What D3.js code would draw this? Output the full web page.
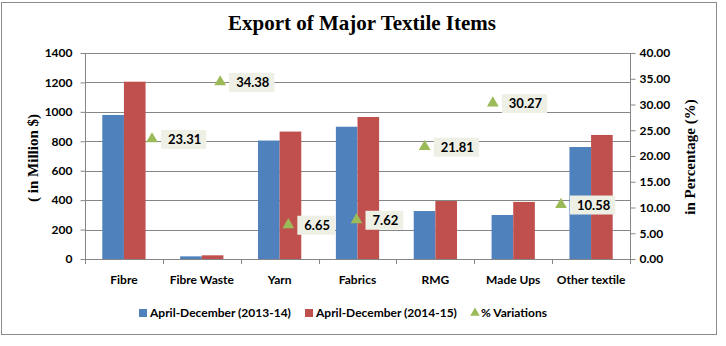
<!DOCTYPE html>
<html><head><meta charset="utf-8">
<script src="https://cdn.jsdelivr.net/npm/d3@7"></script>
<style>body{margin:0;background:#fff}svg{display:block}</style>
</head><body>
<svg id="c" width="726" height="346"></svg>
<script>
const categories = ["Fibre","Fibre Waste","Yarn","Fabrics","RMG","Made Ups","Other textile"];
const values2013 = [979, 18, 805, 899, 326, 299, 761];
const values2014 = [1205, 25, 866, 965, 394, 388, 843];
const variations = [23.31, 34.38, 6.65, 7.62, 21.81, 30.27, 10.58];
const leftTicks = [0,200,400,600,800,1000,1200,1400];
const rightTicks = [0,5,10,15,20,25,30,35,40];
const seriesNames = ["April-December (2013-14)","April-December (2014-15)","% Variations"];

const W=726,H=346;
const m={l:85,r:630,t:53,b:259};
const svg=d3.select("#c");
const gray="#868686";
const font="Lato, 'Open Sans', sans-serif";
const blue="#4f81bd", red="#c0504d", green="#9bbb59";

svg.append("rect").attr("x",1.5).attr("y",2.5).attr("width",715).attr("height",332)
  .attr("fill","#fff").attr("stroke","#8c8c8c").attr("stroke-width",1);

svg.append("text").attr("x",362).attr("y",30).attr("text-anchor","middle")
  .attr("font-family","'Liberation Serif', serif").attr("font-weight","bold").attr("font-size",21)
  .attr("fill","#000").text("Export of Major Textile Items");

const x=d3.scaleBand().domain(categories).range([m.l,m.r]).paddingInner(0).paddingOuter(0);
const y=d3.scaleLinear().domain([0,1400]).range([m.b,m.t]);
const y2=d3.scaleLinear().domain([0,40]).range([m.b,m.t]);
const xs=d3.scaleBand().domain([0,1]).range([0,x.bandwidth()]).paddingOuter(0.8).paddingInner(0);
const xp=d3.scalePoint().domain(categories).range([m.l+67,m.l+476]);

// gridlines
svg.append("g").selectAll("line").data(leftTicks.slice(1)).join("line")
  .attr("x1",m.l).attr("x2",m.r).attr("y1",d=>Math.round(y(d))+0.5).attr("y2",d=>Math.round(y(d))+0.5)
  .attr("stroke",gray).attr("stroke-width",1);

// bars
const series=[values2013,values2014];
const colors=[blue,red];
series.forEach((vals,si)=>{
  svg.append("g").selectAll("rect").data(vals).join("rect")
    .attr("x",(d,i)=>x(categories[i])+xs(si))
    .attr("width",xs.bandwidth())
    .attr("y",d=>y(d)).attr("height",d=>y(0)-y(d))
    .attr("fill",colors[si]);
});

// axes
const la=svg.append("g").attr("transform",`translate(${m.l+0.5},0)`)
  .call(d3.axisLeft(y).tickValues(leftTicks).tickSize(5).tickPadding(8).tickFormat(d3.format("d")));
const ra=svg.append("g").attr("transform",`translate(${m.r+0.5},0)`)
  .call(d3.axisRight(y2).tickValues(rightTicks).tickSize(5).tickPadding(4).tickFormat(d3.format(".2f")));
const ba=svg.append("g").attr("transform",`translate(0,${m.b+0.5})`)
  .call(d3.axisBottom(x).tickSize(0).tickPadding(16));
[la,ra,ba].forEach(a=>{
  a.select(".domain").attr("stroke",gray);
  a.selectAll(".tick line").attr("stroke",gray);
  a.selectAll("text").attr("font-family",font).attr("font-weight","bold").attr("font-size",12).attr("fill","#000");
});
la.select(".domain").attr("d",`M0,${m.t}V${m.b}`);
ra.select(".domain").attr("d",`M0,${m.t}V${m.b}`);
ba.select(".domain").attr("d",`M${m.l},0H${m.r}`);
// category boundary ticks
svg.append("g").selectAll("line").data(categories.concat(["end"])).join("line")
  .attr("x1",(d,i)=>Math.round(m.l+i*x.bandwidth())+0.5).attr("x2",(d,i)=>Math.round(m.l+i*x.bandwidth())+0.5)
  .attr("y1",m.b).attr("y2",m.b+5).attr("stroke",gray);

// axis titles
svg.append("text").attr("transform",`translate(38,158) rotate(-90)`).attr("text-anchor","middle")
  .attr("font-family","'Liberation Serif', serif").attr("font-weight","bold").attr("font-size",15)
  .text("( in Million $)");
svg.append("text").attr("transform",`translate(695,157) rotate(-90)`).attr("text-anchor","middle")
  .attr("font-family","'Liberation Serif', serif").attr("font-weight","bold").attr("font-size",15)
  .text("in Percentage (%)");

// triangle markers + labels
const tri=d3.symbol().type(d3.symbolTriangle).size(60);
const pg=svg.append("g");
variations.forEach((v,i)=>{
  const cx=xp(categories[i]), cy=y2(v);
  pg.append("path").attr("d",tri).attr("transform",`translate(${cx},${cy})`).attr("fill",green);
  const lab=v.toFixed(2);
  const g=pg.append("g").attr("transform",`translate(${cx+9},${cy})`);
  const t=g.append("text").attr("x",7).attr("y",5).attr("font-family",font).attr("font-weight","bold")
    .attr("font-size",13).attr("fill","#000").text(lab);
  const w=t.node().getComputedTextLength();
  g.insert("rect","text").attr("x",0).attr("y",-9).attr("width",w+12).attr("height",19).attr("fill","#eef0e5");
});

// legend
const lg=svg.append("g").attr("font-family",font).attr("font-weight","bold").attr("font-size",12);
const lx=[139,305,472];
lg.append("rect").attr("x",lx[0]).attr("y",309).attr("width",8).attr("height",8).attr("fill",blue);
lg.append("text").attr("x",lx[0]+11).attr("y",317).text(seriesNames[0]);
lg.append("rect").attr("x",lx[1]).attr("y",309).attr("width",8).attr("height",8).attr("fill",red);
lg.append("text").attr("x",lx[1]+11).attr("y",317).text(seriesNames[1]);
lg.append("path").attr("d",d3.symbol().type(d3.symbolTriangle).size(40)).attr("transform",`translate(${lx[2]+3},313)`).attr("fill",green);
lg.append("text").attr("x",lx[2]+9).attr("y",317).text(seriesNames[2]);
</script>
</body></html>
